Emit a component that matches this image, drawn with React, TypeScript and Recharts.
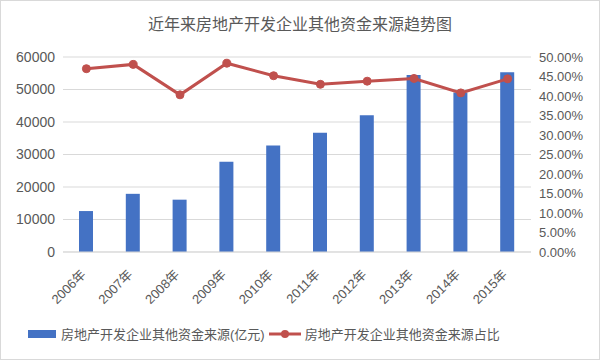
import React from 'react';
import { ComposedChart, Bar, Line, XAxis, YAxis, CartesianGrid, Legend } from 'recharts';

// Chart data
const years = ['2006年', '2007年', '2008年', '2009年', '2010年', '2011年', '2012年', '2013年', '2014年', '2015年'];
const otherFunds = [12600, 17900, 16100, 27800, 32800, 36700, 42100, 54500, 49100, 55300];
const otherShare = [47.0, 48.1, 40.3, 48.4, 45.2, 43.0, 43.8, 44.5, 40.8, 44.4];

const leftTicks = [0, 10000, 20000, 30000, 40000, 50000, 60000];
const rightTicks = [0, 5, 10, 15, 20, 25, 30, 35, 40, 45, 50];

const TITLE = '近年来房地产开发企业其他资金来源趋势图';
const BAR_NAME = '房地产开发企业其他资金来源(亿元)';
const LINE_NAME = '房地产开发企业其他资金来源占比';

const BLUE = '#4472C4';
const RED = '#C0504D';
const TEXT = '#595959';
const GRID = '#D9D9D9';
const FONT = "'Liberation Sans', 'Noto Sans CJK SC', sans-serif";

// rotated year labels, Excel style
const YearTick = (props: any) => {
  const { x, y, payload } = props;
  return (
    <g transform={`translate(${x - 3},${y + 12})`}>
      <text
        transform="rotate(-45)"
        textAnchor="end"
        dy="0.35em"
        fontSize={13}
        fill={TEXT}
        fontFamily={FONT}
      >
        {payload.value}
      </text>
    </g>
  );
};

export default function App() {
  const data = React.useMemo(
    () => years.map((year, i) => ({ year, funds: otherFunds[i], share: otherShare[i] })),
    []
  );

  const renderLegend = () => (
    <div style={{ display: 'flex', alignItems: 'center', fontSize: 13, color: TEXT, fontFamily: FONT, whiteSpace: 'nowrap' }}>
      <span style={{ display: 'inline-block', width: 28, height: 8, background: BLUE, marginRight: 5 }} />
      <span>{BAR_NAME}</span>
      <svg width={34} height={12} style={{ margin: '0 3px' }}>
        <line x1={1} y1={6} x2={33} y2={6} stroke={RED} strokeWidth={3} />
        <circle cx={17} cy={6} r={4} fill={RED} />
      </svg>
      <span>{LINE_NAME}</span>
    </div>
  );

  return (
    <div
      style={{
        position: 'absolute',
        left: 0,
        top: 0,
        width: 600,
        height: 360,
        boxSizing: 'border-box',
        border: `1px solid ${GRID}`,
        background: '#fff',
        fontFamily: FONT,
      }}
    >
      <div
        style={{
          position: 'absolute',
          top: 10,
          left: 0,
          width: '100%',
          textAlign: 'center',
          fontSize: 16,
          color: TEXT,
          fontFamily: FONT,
        }}
      >
        {TITLE}
      </div>
      <ComposedChart
        width={598}
        height={358}
        data={data}
        margin={{ top: 56, right: 0, bottom: 47, left: 0 }}
        style={{ position: 'absolute', left: 0, top: 0 }}
      >
        <CartesianGrid yAxisId="left" vertical={false} stroke={GRID} />
        <XAxis
          dataKey="year"
          height={60}
          interval={0}
          tickLine={false}
          axisLine={{ stroke: GRID }}
          tick={<YearTick />}
        />
        <YAxis
          yAxisId="left"
          width={62}
          domain={[0, 60000]}
          ticks={leftTicks}
          interval={0}
          axisLine={false}
          tickLine={false}
          tick={{ fontSize: 14, fill: TEXT, fontFamily: FONT }}
        />
        <YAxis
          yAxisId="right"
          orientation="right"
          width={68}
          domain={[0, 50]}
          ticks={rightTicks}
          interval={0}
          axisLine={false}
          tickLine={false}
          tickFormatter={(v: number) => `${v.toFixed(2)}%`}
          tick={{ fontSize: 13, fill: TEXT, fontFamily: FONT, textAnchor: 'start' }}
        />
        <Bar yAxisId="left" dataKey="funds" name={BAR_NAME} fill={BLUE} barSize={14} isAnimationActive={false} />
        <Line
          yAxisId="right"
          dataKey="share"
          name={LINE_NAME}
          stroke={RED}
          strokeWidth={3}
          dot={{ r: 4, fill: RED, stroke: RED, strokeWidth: 1 }}
          activeDot={false}
          isAnimationActive={false}
        />
        <Legend
          layout="horizontal"
          verticalAlign="middle"
          align="center"
          content={renderLegend}
          wrapperStyle={{ position: 'absolute', top: 323, left: 27, width: 'auto' }}
        />
      </ComposedChart>
    </div>
  );
}
